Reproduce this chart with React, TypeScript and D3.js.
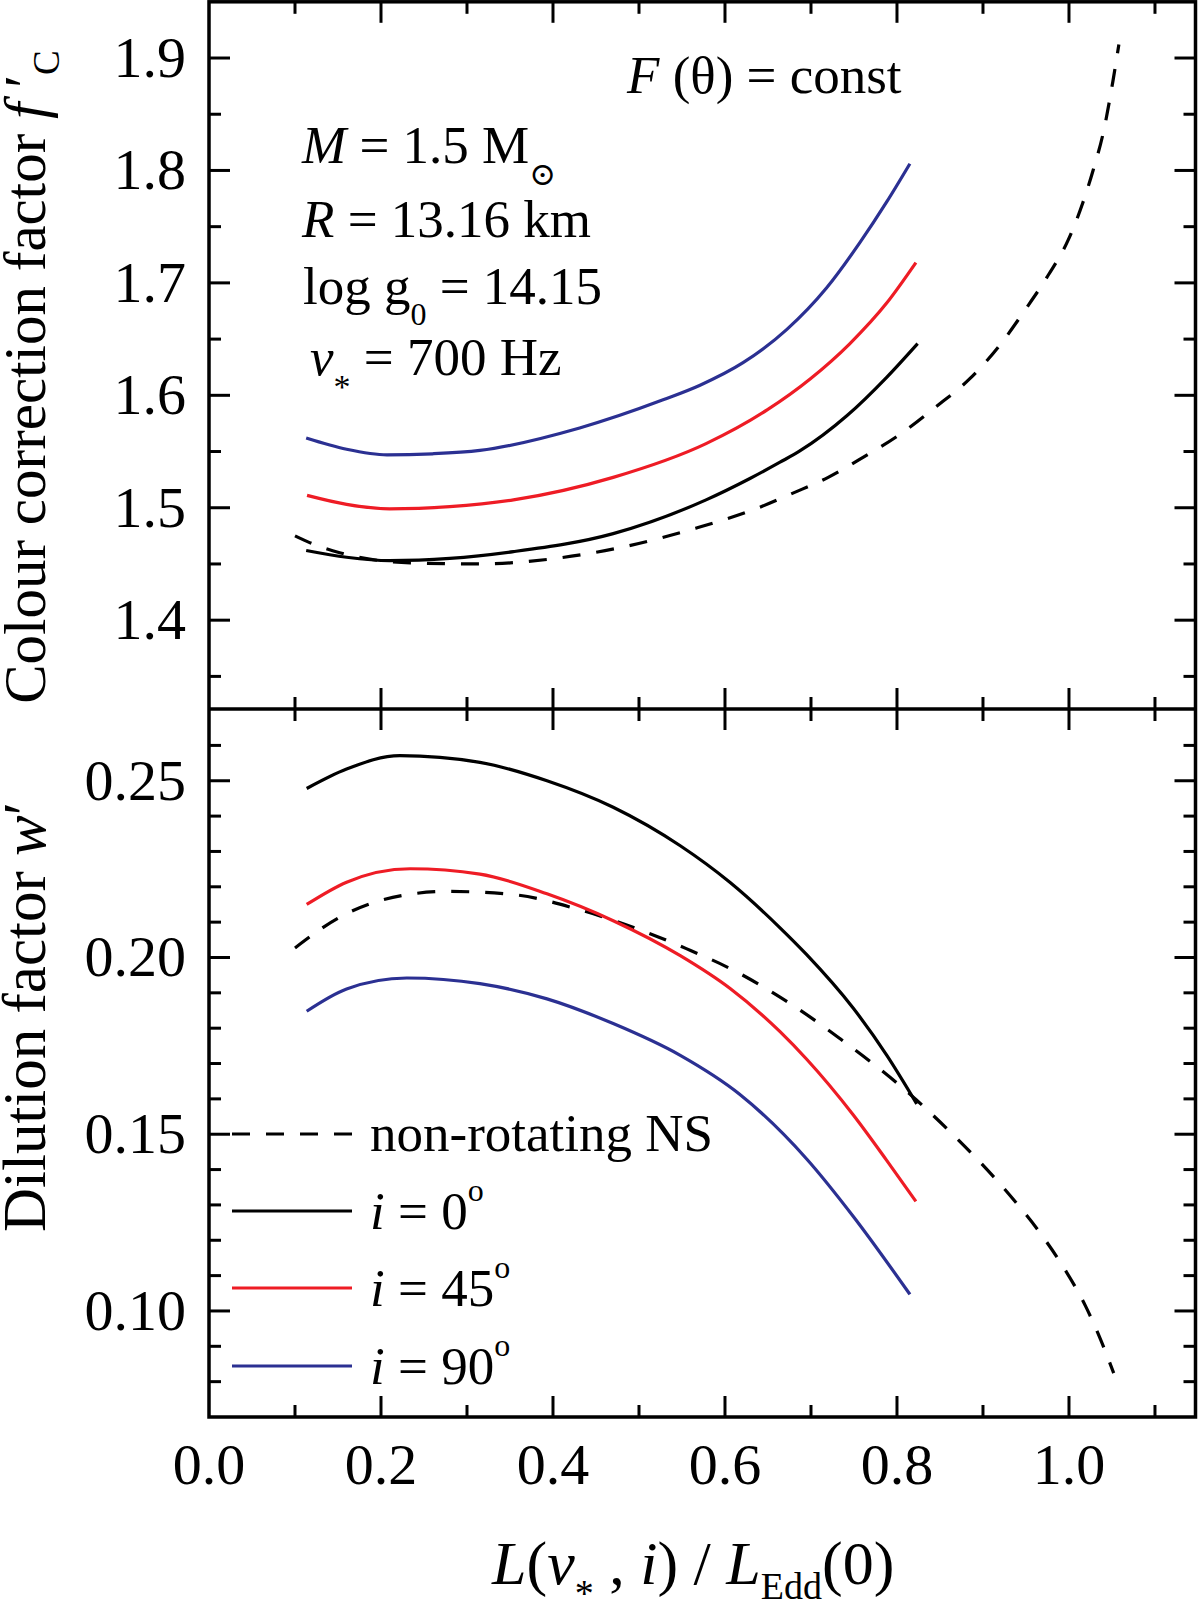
import React from "react";
import * as d3 from "d3";

// ---------- data ----------
// Top panel: colour correction factor f'_C
const fcI0X = [0.113, 0.16, 0.21, 0.28, 0.354, 0.47, 0.578, 0.629, 0.664, 0.687, 0.742, 0.788, 0.824];
const fcI0Y = [1.462, 1.456, 1.453, 1.455, 1.461, 1.477, 1.507, 1.526, 1.5405, 1.5505, 1.582, 1.616, 1.646];

const fcI45X = [0.114, 0.16, 0.21, 0.28, 0.354, 0.47, 0.578, 0.649, 0.699, 0.745, 0.788, 0.822];
const fcI45Y = [1.511, 1.503, 1.499, 1.501, 1.507, 1.527, 1.557, 1.587, 1.6145, 1.6458, 1.682, 1.718];

const fcI90X = [0.113, 0.16, 0.207, 0.26, 0.315, 0.431, 0.528, 0.571, 0.621, 0.672, 0.718, 0.757, 0.788, 0.815];
const fcI90Y = [1.562, 1.552, 1.547, 1.548, 1.551, 1.571, 1.596, 1.609, 1.629, 1.6586, 1.6954, 1.736, 1.772, 1.806];

const fcNonRotX = [0.1, 0.117, 0.152, 0.234, 0.315, 0.393, 0.481, 0.567, 0.639, 0.679, 0.72, 0.761, 0.803, 0.844, 0.885, 0.92, 0.949, 0.976, 0.999, 1.016, 1.028, 1.04, 1.051, 1.058];
const fcNonRotY = [1.475, 1.469, 1.46, 1.451, 1.45, 1.454, 1.465, 1.482, 1.5, 1.513, 1.527, 1.545, 1.565, 1.589, 1.615, 1.645, 1.676, 1.707, 1.738, 1.771, 1.8, 1.834, 1.879, 1.912];

// Bottom panel: dilution factor w'
const wI0X = [0.1136, 0.16, 0.222, 0.315, 0.393, 0.47, 0.548, 0.606, 0.664, 0.695, 0.749, 0.788, 0.823];
const wI0Y = [0.2478, 0.2533, 0.2571, 0.2552, 0.25, 0.2425, 0.2316, 0.2212, 0.2084, 0.2008, 0.1857, 0.1724, 0.1586];

const wI45X = [0.1136, 0.16, 0.234, 0.315, 0.393, 0.47, 0.548, 0.606, 0.664, 0.695, 0.749, 0.788, 0.822];
const wI45Y = [0.215, 0.2213, 0.2251, 0.2236, 0.218, 0.2104, 0.2005, 0.1912, 0.179, 0.1712, 0.1555, 0.1426, 0.131];

const wI90X = [0.1136, 0.16, 0.23, 0.315, 0.393, 0.47, 0.548, 0.617, 0.695, 0.749, 0.815];
const wI90Y = [0.1848, 0.1911, 0.1942, 0.1926, 0.1883, 0.1813, 0.1723, 0.1613, 0.143, 0.1268, 0.1047];

const wNonRotX = [0.1, 0.152, 0.199, 0.277, 0.354, 0.431, 0.509, 0.555, 0.613, 0.656, 0.7, 0.734, 0.772, 0.823, 0.858, 0.897, 0.931, 0.966, 0.993, 1.019, 1.034, 1.052];
const wNonRotY = [0.2027, 0.2114, 0.2161, 0.2187, 0.2178, 0.2135, 0.2071, 0.2025, 0.196, 0.19, 0.183, 0.177, 0.17, 0.1596, 0.1516, 0.142, 0.1328, 0.1222, 0.1126, 0.1015, 0.0935, 0.0824];

// ticks
const xMajorTicks = [0, 0.2, 0.4, 0.6, 0.8, 1.0];
const xMinorTicks = [0.1, 0.3, 0.5, 0.7, 0.9, 1.1];
const xTickLabels = ["0.0", "0.2", "0.4", "0.6", "0.8", "1.0"];

const topMajorTicks = [1.4, 1.5, 1.6, 1.7, 1.8, 1.9];
const topMinorTicks = [1.35, 1.45, 1.55, 1.65, 1.75, 1.85];
const topTickLabels = ["1.4", "1.5", "1.6", "1.7", "1.8", "1.9"];

const botMajorTicks = [0.1, 0.15, 0.2, 0.25];
const botMinorTicks = [0.08, 0.09, 0.11, 0.12, 0.13, 0.14, 0.16, 0.17, 0.18, 0.19, 0.21, 0.22, 0.23, 0.24, 0.26];
const botTickLabels = ["0.10", "0.15", "0.20", "0.25"];

const legendLabels = ["non-rotating NS", "0", "45", "90"];

const BLUE = "#2b3092";
const RED = "#ee1c25";
const BLACK = "#000000";

const FONT = "'Liberation Serif', 'Times New Roman', Times, serif";

// ---------- layout ----------
const W = 1200;
const H = 1612;
const L = 209;
const R = 1195.5;
const T = 1.8;
const MID = 709;
const B = 1417;

const x = d3.scaleLinear().domain([0, 1.147]).range([L, 1195.4]);
const yTop = d3.scaleLinear().domain([1.321, 1.95]).range([MID, T]);
const yBot = d3.scaleLinear().domain([0.07, 0.2703]).range([B, MID]);

function pairs(xs: number[], ys: number[]): [number, number][] {
  return xs.map((v, i) => [v, ys[i]] as [number, number]);
}

export default function App() {
  const lineTop = d3
    .line<[number, number]>()
    .x((d) => x(d[0]))
    .y((d) => yTop(d[1]))
    .curve(d3.curveMonotoneX);
  const lineBot = d3
    .line<[number, number]>()
    .x((d) => x(d[0]))
    .y((d) => yBot(d[1]))
    .curve(d3.curveMonotoneX);

  const MAJ = 21;
  const MIN = 12;
  const tickW = 3;

  const ticks: JSX.Element[] = [];
  xMajorTicks.concat(xMinorTicks).forEach((v, i) => {
    const len = i < xMajorTicks.length ? MAJ : MIN;
    const px = x(v);
    if (v === 0) return;
    ticks.push(<line key={`xt${i}`} x1={px} x2={px} y1={T} y2={T + len} />);
    ticks.push(<line key={`xm${i}`} x1={px} x2={px} y1={MID - len} y2={MID + len} />);
    ticks.push(<line key={`xb${i}`} x1={px} x2={px} y1={B} y2={B - len} />);
  });
  topMajorTicks.concat(topMinorTicks).forEach((v, i) => {
    const len = i < topMajorTicks.length ? MAJ : MIN;
    const py = yTop(v);
    ticks.push(<line key={`tl${i}`} x1={L} x2={L + len} y1={py} y2={py} />);
    ticks.push(<line key={`tr${i}`} x1={R} x2={R - len} y1={py} y2={py} />);
  });
  botMajorTicks.concat(botMinorTicks).forEach((v, i) => {
    const len = i < botMajorTicks.length ? MAJ : MIN;
    const py = yBot(v);
    ticks.push(<line key={`bl${i}`} x1={L} x2={L + len} y1={py} y2={py} />);
    ticks.push(<line key={`br${i}`} x1={R} x2={R - len} y1={py} y2={py} />);
  });

  const dash = "18 16";
  const legendRows = [1134, 1211, 1288, 1366];
  const legendColors = [BLACK, BLACK, RED, BLUE];

  return (
    <svg
      width={W}
      height={H}
      viewBox={`0 0 ${W} ${H}`}
      style={{ position: "absolute", left: 0, top: 0, display: "block", background: "#fff" }}
      fontFamily={FONT}
    >
      <rect x={0} y={0} width={W} height={H} fill="#fff" />

      <g fill="none" strokeWidth={3.2} strokeLinecap="butt">
        <path d={lineTop(pairs(fcNonRotX, fcNonRotY)) || ""} stroke={BLACK} strokeDasharray={dash} />
        <path d={lineTop(pairs(fcI0X, fcI0Y)) || ""} stroke={BLACK} />
        <path d={lineTop(pairs(fcI45X, fcI45Y)) || ""} stroke={RED} />
        <path d={lineTop(pairs(fcI90X, fcI90Y)) || ""} stroke={BLUE} />
        <path d={lineBot(pairs(wNonRotX, wNonRotY)) || ""} stroke={BLACK} strokeDasharray={dash} />
        <path d={lineBot(pairs(wI0X, wI0Y)) || ""} stroke={BLACK} />
        <path d={lineBot(pairs(wI45X, wI45Y)) || ""} stroke={RED} />
        <path d={lineBot(pairs(wI90X, wI90Y)) || ""} stroke={BLUE} />
      </g>

      <g stroke={BLACK} strokeWidth={3.5} fill="none">
        <rect x={L} y={T} width={R - L} height={B - T} />
        <line x1={L} x2={R} y1={MID} y2={MID} />
      </g>
      <g stroke={BLACK} strokeWidth={tickW}>{ticks}</g>

      <g fontSize={58} fill={BLACK}>
        {xMajorTicks.map((v, i) => (
          <text key={`xl${i}`} x={x(v)} y={1484} textAnchor="middle">
            {xTickLabels[i]}
          </text>
        ))}
        {topMajorTicks.map((v, i) => (
          <text key={`tyl${i}`} x={186} y={yTop(v) + 19} textAnchor="end">
            {topTickLabels[i]}
          </text>
        ))}
        {botMajorTicks.map((v, i) => (
          <text key={`byl${i}`} x={186} y={yBot(v) + 19} textAnchor="end">
            {botTickLabels[i]}
          </text>
        ))}
      </g>

      <text x={492} y={1584} fontSize={62}>
        <tspan fontStyle="italic">L</tspan>
        <tspan>(</tspan>
        <tspan fontStyle="italic">ν</tspan>
        <tspan fontSize={38} dy={22}>*</tspan>
        <tspan dy={-22}> , </tspan>
        <tspan fontStyle="italic">i</tspan>
        <tspan>) / </tspan>
        <tspan fontStyle="italic">L</tspan>
        <tspan fontSize={38} dy={15}>Edd</tspan>
        <tspan dy={-15}>(0)</tspan>
      </text>
      <text transform="translate(45,377) rotate(-90)" textAnchor="middle" fontSize={59}>
        <tspan>Colour correction factor </tspan>
        <tspan fontStyle="italic">f</tspan>
        <tspan> ′</tspan>
        <tspan fontSize={37} dy={14}>C</tspan>
      </text>
      <text transform="translate(45,1017) rotate(-90)" textAnchor="middle" fontSize={61}>
        <tspan>Dilution factor </tspan>
        <tspan fontStyle="italic">w</tspan>
        <tspan>′</tspan>
      </text>

      <g fontSize={53} fill={BLACK}>
        <text x={627} y={93}>
          <tspan fontStyle="italic">F</tspan>
          <tspan> (θ) = const</tspan>
        </text>
        <text x={302} y={163}>
          <tspan fontStyle="italic">M</tspan>
          <tspan> = 1.5 M</tspan>
          <tspan fontSize={32} dy={22} fontFamily="'DejaVu Serif', 'DejaVu Sans', serif">⊙</tspan>
        </text>
        <text x={302} y={237}>
          <tspan fontStyle="italic">R</tspan>
          <tspan> = 13.16 km</tspan>
        </text>
        <text x={303} y={304}>
          <tspan>log g</tspan>
          <tspan fontSize={32} dy={21}>0</tspan>
          <tspan dy={-21}> = 14.15</tspan>
        </text>
        <text x={310} y={375}>
          <tspan fontStyle="italic">ν</tspan>
          <tspan fontSize={34} dy={23}>*</tspan>
          <tspan dy={-23}> = 700 Hz</tspan>
        </text>
      </g>

      <g>
        {legendRows.map((yy, i) => (
          <line
            key={`lg${i}`}
            x1={232}
            x2={352}
            y1={yy}
            y2={yy}
            stroke={legendColors[i]}
            strokeWidth={3.2}
            strokeDasharray={i === 0 ? dash : undefined}
          />
        ))}
        <g fontSize={53} fill={BLACK}>
          <text x={370} y={legendRows[0] + 17}>{legendLabels[0]}</text>
          {[1, 2, 3].map((k) => (
            <text key={`lt${k}`} x={370} y={legendRows[k] + 18}>
              <tspan fontStyle="italic">i</tspan>
              <tspan> = {legendLabels[k]}</tspan>
              <tspan fontSize={32} dy={-28}>o</tspan>
            </text>
          ))}
        </g>
      </g>
    </svg>
  );
}
